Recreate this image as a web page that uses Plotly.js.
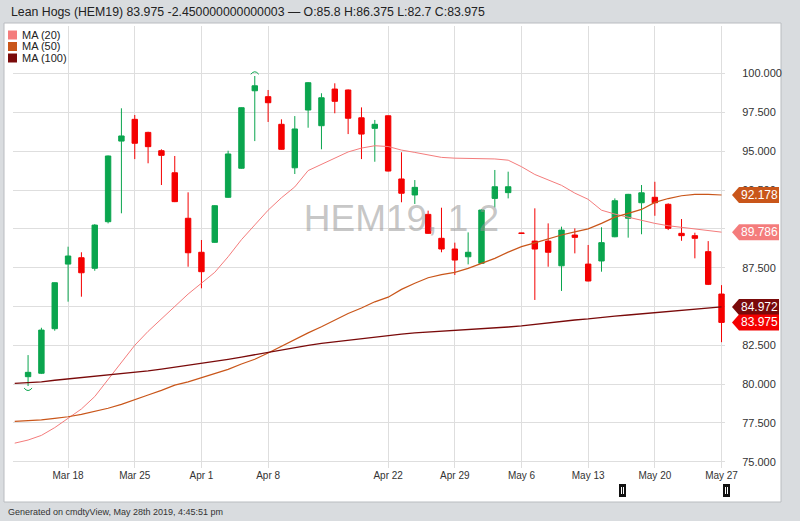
<!DOCTYPE html>
<html>
<head>
<meta charset="utf-8">
<script src="https://cdn.plot.ly/plotly-3.0.1.min.js"></script>
<style>html,body{margin:0;padding:0;background:#d9dcdf;}#chart{width:800px;height:521px;}</style>
</head>
<body>
<div id="chart"></div>
<script>
// ---- data ----
const days = ["2019-03-12","2019-03-13","2019-03-14","2019-03-15","2019-03-18","2019-03-19","2019-03-20","2019-03-21","2019-03-22",
"2019-03-25","2019-03-26","2019-03-27","2019-03-28","2019-03-29","2019-04-01","2019-04-02","2019-04-03","2019-04-04","2019-04-05",
"2019-04-08","2019-04-09","2019-04-10","2019-04-11","2019-04-12","2019-04-15","2019-04-16","2019-04-17","2019-04-18",
"2019-04-22","2019-04-23","2019-04-24","2019-04-25","2019-04-26","2019-04-29","2019-04-30","2019-05-01","2019-05-02","2019-05-03",
"2019-05-06","2019-05-07","2019-05-08","2019-05-09","2019-05-10","2019-05-13","2019-05-14","2019-05-15","2019-05-16","2019-05-17",
"2019-05-20","2019-05-21","2019-05-22","2019-05-23","2019-05-24","2019-05-28"];
const candleDays = days.slice(1);
const openV  = [80.48,80.70,83.57,87.73,88.14,87.46,90.46,95.65,97.05,96.21,95.03,93.61,90.68,88.49,89.13,92.03,93.90,98.89,98.51,96.73,93.93,97.65,96.64,99.00,98.94,97.15,96.47,97.28,93.21,92.18,90.93,89.39,88.70,88.20,87.78,91.96,92.33,89.73,89.21,89.21,87.62,89.60,87.73,87.93,89.49,90.68,91.68,92.03,91.58,89.71,89.56,88.53,85.80];
const highV  = [81.87,83.63,86.55,88.85,88.49,90.30,94.72,97.76,97.33,96.25,95.12,94.69,92.35,89.28,91.52,95.03,97.82,99.84,98.94,97.05,97.26,99.45,98.73,99.37,98.97,97.82,97.01,97.30,94.93,93.14,91.17,91.36,89.11,89.77,91.25,93.79,93.68,89.74,91.32,90.35,90.14,90.03,88.96,90.10,91.96,92.25,92.82,93.03,91.64,90.63,89.75,89.21,86.375];
const lowV   = [79.88,80.65,83.44,85.31,85.63,87.30,90.35,91.00,94.49,94.22,92.82,91.72,87.56,86.17,89.10,92.00,93.87,95.65,96.88,95.10,93.53,96.51,95.12,97.44,96.10,94.49,94.32,93.70,91.71,91.60,89.68,88.49,87.03,87.71,87.75,91.38,91.96,89.70,85.42,87.56,86.00,88.42,86.62,87.24,89.46,89.43,89.65,90.84,89.92,89.23,88.10,86.38,82.70];
const closeV = [80.76,83.48,86.53,88.25,87.17,90.24,94.69,95.98,95.51,95.29,94.73,91.75,88.46,87.24,91.49,94.82,97.80,99.21,98.12,95.12,96.43,99.41,98.44,98.21,97.12,96.10,96.73,93.72,92.29,92.67,89.71,88.70,87.99,88.49,91.21,92.71,92.71,89.71,88.70,88.49,89.92,89.45,86.64,89.11,91.81,92.22,92.32,91.68,90.03,89.56,89.39,86.425,83.975];
const ma20  = [76.2,76.4,76.7,77.2,77.8,78.4,79.2,80.3,81.4,82.5,83.4,84.2,85.0,85.8,86.5,87.2,88.2,89.3,90.25,91.2,92.0,92.7,93.75,94.15,94.55,94.95,95.2,95.35,95.3,95.07,94.92,94.75,94.6,94.55,94.53,94.52,94.5,94.42,94.0,93.5,93.15,92.8,92.3,91.9,91.2,90.95,90.75,90.55,90.35,90.2,90.1,90.0,89.9,89.786];
const ma50  = [77.6,77.65,77.7,77.8,77.9,78.05,78.25,78.45,78.7,78.98,79.3,79.6,79.94,80.15,80.4,80.7,80.95,81.3,81.6,82.0,82.45,82.85,83.3,83.7,84.13,84.55,84.9,85.3,85.6,86.1,86.5,86.85,87.05,87.2,87.45,87.75,88.1,88.5,88.85,89.1,89.35,89.6,89.8,90.0,90.35,90.75,91.0,91.25,91.7,91.95,92.13,92.22,92.22,92.178];
const ma100 = [80.05,80.1,80.15,80.25,80.33,80.43,80.52,80.6,80.68,80.75,80.85,80.96,81.08,81.2,81.33,81.47,81.6,81.74,81.9,82.05,82.2,82.35,82.5,82.62,82.72,82.82,82.92,83.03,83.15,83.22,83.3,83.35,83.4,83.45,83.5,83.56,83.62,83.68,83.75,83.85,83.95,84.05,84.13,84.2,84.3,84.38,84.45,84.53,84.6,84.7,84.78,84.85,84.92,84.972];
const tickDays   = ["2019-03-18","2019-03-25","2019-04-01","2019-04-08","2019-04-22","2019-04-29","2019-05-06","2019-05-13","2019-05-20","2019-05-28"];
const tickLabels = ["Mar 18","Mar 25","Apr 1","Apr 8","Apr 22","Apr 29","May 6","May 13","May 20","May 27"];
const priceTicks = [75, 77.5, 80, 82.5, 85, 87.5, 90, 92.5, 95, 97.5, 100];
// 85.000 and 90.000 sit fully behind the MA price tags in the reference
const priceLabels = ["75.000","77.500","80.000","82.500","","87.500","","92.500","95.000","97.500","100.000"];
const maNames = ["MA (20)","MA (50)","MA (100)"];
const maColors = ["#f47c7c","#c9561a","#7a0a0a"];
const lastClose = 83.975;
const titleText = "Lean Hogs (HEM19) 83.975 -2.450000000000003 \u2014 O:85.8 H:86.375 L:82.7 C:83.975";
const watermark = "HEM19, 1 2";
const footer = "Generated on cmdtyView, May 28th 2019, 4:45:51 pm";
const extremeMarks = [{day: "2019-03-13", v: 79.62, dir: "low"}, {day: "2019-04-05", v: 100.08, dir: "high"}];

// ---- geometry helpers (layout only) ----
const W = 800, H = 521, M = {l: 13, r: 75, t: 26, b: 53};
const PW = W - M.l - M.r, PH = H - M.t - M.b;
const px = x => (x - M.l) / PW;
const py = y => (H - M.b - y) / PH;
const FONT = "Liberation Sans, Arial, sans-serif";

const green = "#0aa54e", red = "#f40000";
const traces = [
  {type: "scatter", mode: "text", x: ["2019-04-23"], y: [90.45], text: [watermark], textposition: "middle center",
   textfont: {family: FONT, size: 37, color: "rgba(150,150,150,0.55)"}, hoverinfo: "skip", showlegend: false, cliponaxis: false},
  {type: "scatter", mode: "lines", x: days, y: ma20, line: {color: maColors[0], width: 1}, name: maNames[0], showlegend: false},
  {type: "scatter", mode: "lines", x: days, y: ma50, line: {color: maColors[1], width: 1.2}, name: maNames[1], showlegend: false},
  {type: "scatter", mode: "lines", x: days, y: ma100, line: {color: maColors[2], width: 1.3}, name: maNames[2], showlegend: false},
  {type: "candlestick", x: candleDays, open: openV, high: highV, low: lowV, close: closeV, showlegend: false,
   increasing: {line: {color: green, width: 1}, fillcolor: green},
   decreasing: {line: {color: red, width: 1}, fillcolor: red}, whiskerwidth: 0}
];

const shapes = [
  {type: "rect", xref: "paper", yref: "paper", x0: px(4), x1: px(781), y0: py(502), y1: py(23),
   fillcolor: "#ffffff", line: {color: "#b9bcc0", width: 1}, layer: "below"}
];
const annotations = [
  {xref: "paper", yref: "paper", x: px(9), y: py(12), xanchor: "left", yanchor: "middle", showarrow: false,
   text: titleText, font: {family: FONT, size: 12.3, color: "#222"}},
  {xref: "paper", yref: "paper", x: px(6), y: py(512), xanchor: "left", yanchor: "middle", showarrow: false,
   text: footer, font: {family: FONT, size: 9, color: "#333"}}
];
// legend
maNames.forEach((n, i) => {
  const cy = 35 + i * 11.5;
  shapes.push({type: "rect", xref: "paper", yref: "paper", x0: px(8), x1: px(17), y0: py(cy + 4.5), y1: py(cy - 4.5),
    fillcolor: maColors[i], line: {width: 0}});
  annotations.push({xref: "paper", yref: "paper", x: px(20), y: py(cy), xanchor: "left", yanchor: "middle", showarrow: false,
    text: n, font: {family: FONT, size: 11, color: "#222"}});
});
// high / low arcs
extremeMarks.forEach(m => {
  shapes.push({type: "path", xref: "x", yref: "y", xsizemode: "pixel", ysizemode: "pixel", xanchor: m.day, yanchor: m.v,
    path: m.dir === "low" ? "M -4 2 Q 0 -3 4 2" : "M -4 -2 Q 0 3 4 -2", line: {color: green, width: 1}, layer: "above"});
});
// price tags on right axis
const tags = [
  {v: ma50[ma50.length - 1], c: maColors[1]},
  {v: ma20[ma20.length - 1], c: maColors[0]},
  {v: ma100[ma100.length - 1], c: maColors[2]},
  {v: lastClose, c: "#f40000"}
];
tags.forEach(t => {
  shapes.push({type: "path", xref: "paper", yref: "y", xsizemode: "pixel", ysizemode: "pixel", xanchor: 1, yanchor: t.v,
    path: "M 7 0 L 14 8 L 54 8 L 54 -8 L 14 -8 Z", fillcolor: t.c, line: {width: 0}, layer: "above"});
  annotations.push({xref: "paper", yref: "y", x: 1, y: t.v, xshift: 34, xanchor: "center", yanchor: "middle", showarrow: false,
    text: t.v.toFixed(3), font: {family: FONT, size: 12, color: "#ffffff"}});
});
// navigator handles at the bottom
[622.5, 726.5].forEach(cx => {
  shapes.push({type: "rect", xref: "paper", yref: "paper", x0: px(cx - 3.5), x1: px(cx + 3.5), y0: py(497), y1: py(484),
    fillcolor: "#111", line: {width: 0}});
  [-1, 1].forEach(d => shapes.push({type: "line", xref: "paper", yref: "paper", x0: px(cx + d), x1: px(cx + d),
    y0: py(494), y1: py(487), line: {color: "#fff", width: 1}}));
});

const layout = {
  width: W, height: H, margin: M,
  paper_bgcolor: "#d9dcdf", plot_bgcolor: "rgba(0,0,0,0)",
  showlegend: false, dragmode: false,
  font: {family: FONT, size: 11, color: "#333"},
  xaxis: {type: "category", categoryorder: "array", categoryarray: days, range: [-0.13, 53.26],
    tickvals: tickDays, ticktext: tickLabels, showgrid: true, gridcolor: "#dedede", gridwidth: 1,
    zeroline: false, showline: false, ticks: "", tickfont: {size: 10, color: "#333"},
    rangeslider: {visible: false}, fixedrange: true},
  yaxis: {side: "right", range: [74.6, 103.06], tickmode: "array", tickvals: priceTicks, ticktext: priceLabels,
    showgrid: true, gridcolor: "#dedede", gridwidth: 1, zeroline: false, showline: false,
    ticks: "outside", ticklen: 14, tickcolor: "rgba(0,0,0,0)", tickfont: {size: 11, color: "#333"}, fixedrange: true},
  boxgap: 0.42,
  shapes: shapes, annotations: annotations
};
Plotly.newPlot("chart", traces, layout, {displayModeBar: false, staticPlot: true});
</script>
</body>
</html>
